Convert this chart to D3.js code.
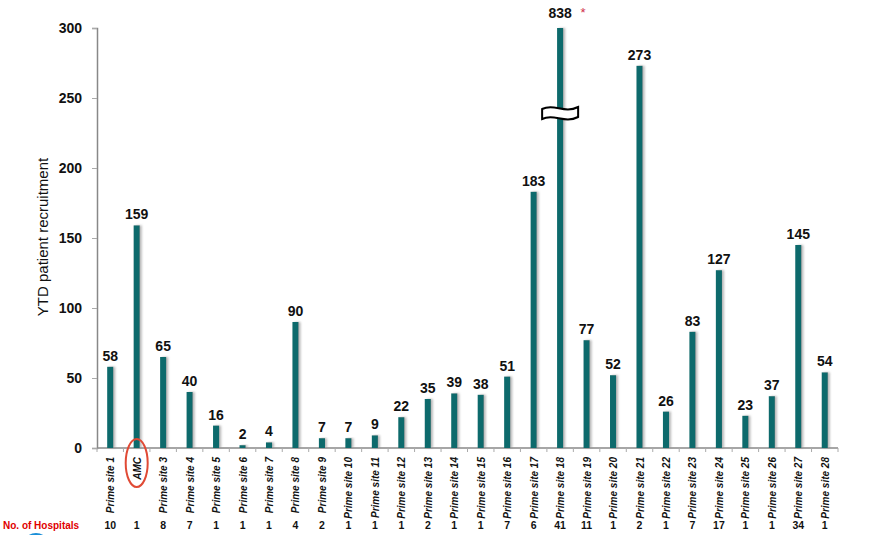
<!DOCTYPE html>
<html>
<head>
<meta charset="utf-8">
<script src="https://cdn.jsdelivr.net/npm/d3@7"></script>
<style>
  body { margin: 0; background: #fff; }
  text { font-family: Arial, "Liberation Sans", sans-serif; }
</style>
</head>
<body>
<script>
(function(){

//chart data
var sites = ["Prime site 1", "AMC", "Prime site 3", "Prime site 4", "Prime site 5", "Prime site 6", "Prime site 7",
    "Prime site 8", "Prime site 9", "Prime site 10", "Prime site 11", "Prime site 12", "Prime site 13", "Prime site 14",
    "Prime site 15", "Prime site 16", "Prime site 17", "Prime site 18", "Prime site 19", "Prime site 20", "Prime site 21",
    "Prime site 22", "Prime site 23", "Prime site 24", "Prime site 25", "Prime site 26", "Prime site 27", "Prime site 28"];
var recruitment = [58, 159, 65, 40, 16, 2, 4, 90, 7, 7, 9, 22, 35, 39, 38, 51, 183, 838, 77, 52, 273, 26, 83, 127, 23, 37, 145, 54];
var hospitals = [10, 1, 8, 7, 1, 1, 1, 4, 2, 1, 1, 1, 2, 1, 1, 7, 6, 41, 11, 1, 2, 1, 7, 17, 1, 1, 34, 1];
var yTicks = [0, 50, 100, 150, 200, 250, 300];
var yMax = 300;

var width = 873, height = 535;
var x0 = 97, x1 = 838, yTop = 28, yBottom = 448;

var svg = d3.select("body")
    .append("svg")
    .attr("width", width)
    .attr("height", height);

//soft shadow to the right of each bar
var defs = svg.append("defs");
var shadow = defs.append("filter")
    .attr("id", "barShadow")
    .attr("x", "-50%").attr("y", "-10%")
    .attr("width", "250%").attr("height", "120%");
shadow.append("feDropShadow")
    .attr("dx", 2).attr("dy", 0)
    .attr("stdDeviation", 1.2)
    .attr("flood-color", "#888")
    .attr("flood-opacity", 0.6);

var x = d3.scaleBand()
    .domain(sites)
    .range([x0, x1])
    .paddingInner(0.77)
    .paddingOuter(0.385);

var y = d3.scaleLinear()
    .domain([0, yMax])
    .range([yBottom, yTop]);

//y axis
var yAxis = svg.append("g")
    .attr("transform", "translate(" + x0 + ",0)")
    .call(d3.axisLeft(y).tickValues(yTicks).tickSize(5).tickPadding(10));
yAxis.select(".domain").attr("stroke", "#888").attr("stroke-width", 1.5);
yAxis.selectAll(".tick line").attr("stroke", "#aaa");
yAxis.selectAll(".tick text")
    .attr("font-size", 14)
    .attr("font-weight", "bold")
    .attr("fill", "#111")
    .style("font-family", "Arial, 'Liberation Sans', sans-serif");

//y axis title
svg.append("text")
    .attr("transform", "translate(48," + 237 + ") rotate(-90)")
    .attr("text-anchor", "middle")
    .attr("font-size", 15)
    .attr("fill", "#111")
    .text("YTD patient recruitment");

//x axis line with ticks between categories
svg.append("line")
    .attr("x1", x0).attr("x2", x1)
    .attr("y1", yBottom).attr("y2", yBottom)
    .attr("stroke", "#888").attr("stroke-width", 1.5);

var step = x.step();
var boundaries = d3.range(sites.length + 1).map(function(i){ return x0 + i * step; });
svg.selectAll(".xtick")
    .data(boundaries)
    .enter()
    .append("line")
    .attr("class", "xtick")
    .attr("x1", function(d){ return d; })
    .attr("x2", function(d){ return d; })
    .attr("y1", yBottom)
    .attr("y2", yBottom + 4)
    .attr("stroke", "#aaa");

//bars
svg.selectAll(".bar")
    .data(recruitment)
    .enter()
    .append("rect")
    .attr("class", "bar")
    .attr("x", function(d, i){ return x(sites[i]); })
    .attr("width", x.bandwidth())
    .attr("y", function(d){ return y(Math.min(d, yMax)); })
    .attr("height", function(d){ return yBottom - y(Math.min(d, yMax)); })
    .attr("fill", "#0a6b6c")
    .attr("filter", "url(#barShadow)");

//value labels
svg.selectAll(".val")
    .data(recruitment)
    .enter()
    .append("text")
    .attr("class", "val")
    .attr("x", function(d, i){ return x(sites[i]) + x.bandwidth() / 2; })
    .attr("y", function(d){ return d > yMax ? 18 : y(d) - 6; })
    .attr("text-anchor", "middle")
    .attr("font-size", 14)
    .attr("font-weight", "bold")
    .attr("fill", "#111")
    .text(function(d){ return d; });

//asterisk on the clipped bar and axis break symbol
recruitment.forEach(function(d, i){
    if (d <= yMax) return;
    var cx = x(sites[i]) + x.bandwidth() / 2;
    svg.append("text")
        .attr("x", cx + 23)
        .attr("y", 17)
        .attr("text-anchor", "middle")
        .attr("font-size", 13)
        .attr("fill", "#d0304a")
        .text("*");
    var bw = 18, bh = 5, by = 114;
    svg.append("path")
        .attr("d", "M" + (cx - bw) + "," + (by - bh) +
            " C" + (cx - 6) + "," + (by - bh - 6) + " " + (cx + 4) + "," + (by - bh + 5) + " " + (cx + bw) + "," + (by - bh - 2) +
            " L" + (cx + bw) + "," + (by + bh - 2) +
            " C" + (cx + 4) + "," + (by + bh + 5) + " " + (cx - 6) + "," + (by + bh - 6) + " " + (cx - bw) + "," + (by + bh) + " Z")
        .attr("fill", "#fff")
        .attr("stroke", "#000")
        .attr("stroke-width", 2);
});

//category labels, rotated
svg.selectAll(".cat")
    .data(sites)
    .enter()
    .append("text")
    .attr("class", "cat")
    .attr("transform", function(d){
        return "translate(" + (x(d) + x.bandwidth() / 2 + 4) + "," + (yBottom + 9) + ") rotate(-90)";
    })
    .attr("text-anchor", "end")
    .attr("font-size", 10)
    .attr("font-style", "italic")
    .attr("font-weight", "bold")
    .attr("fill", "#111")
    .text(function(d){ return d; });

//red ellipse around AMC
svg.append("ellipse")
    .attr("cx", x("AMC") + x.bandwidth() / 2)
    .attr("cy", 463)
    .attr("rx", 11)
    .attr("ry", 24)
    .attr("fill", "none")
    .attr("stroke", "#e04a35")
    .attr("stroke-width", 2);

//number of hospitals row
svg.append("text")
    .attr("x", 3)
    .attr("y", 529)
    .attr("font-size", 10)
    .attr("font-weight", "bold")
    .attr("fill", "#e00000")
    .text("No. of Hospitals");

svg.selectAll(".hosp")
    .data(hospitals)
    .enter()
    .append("text")
    .attr("class", "hosp")
    .attr("x", function(d, i){ return x(sites[i]) + x.bandwidth() / 2; })
    .attr("y", 529)
    .attr("text-anchor", "middle")
    .attr("font-size", 10.5)
    .attr("font-weight", "bold")
    .attr("fill", "#111")
    .text(function(d){ return d; });

//partial blue circle at the bottom edge
svg.append("path")
    .attr("d", d3.arc()({innerRadius: 12, outerRadius: 14, startAngle: -Math.PI / 2.6, endAngle: Math.PI / 2.6}))
    .attr("transform", "translate(36,547)")
    .attr("fill", "#1a8fd8");

})();
</script>
</body>
</html>
